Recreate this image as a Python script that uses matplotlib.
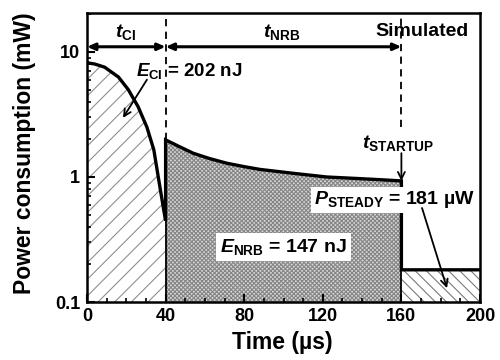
import matplotlib
matplotlib.use("Agg")
import matplotlib.pyplot as plt
from matplotlib.ticker import MultipleLocator, LogLocator, NullFormatter, FixedLocator, FixedFormatter

plt.rcParams["font.family"] = ["Liberation Sans", "DejaVu Sans"]
plt.rcParams["font.weight"] = "bold"
plt.rcParams["mathtext.fontset"] = "custom"
plt.rcParams["mathtext.rm"] = "Liberation Sans:bold"
plt.rcParams["mathtext.it"] = "Liberation Sans:bold:italic"
plt.rcParams["mathtext.bf"] = "Liberation Sans:bold"
plt.rcParams["hatch.linewidth"] = 0.8

# Charge-injection phase (t_CI)
t_ci = [0, 4, 9, 16, 21, 26, 30.5, 34, 36.5, 39, 40]
p_ci = [8.2, 8.0, 7.55, 6.3, 5.0, 3.65, 2.5, 1.65, 0.95, 0.55, 0.45]

# Non-resonant boost phase (t_NRB)
t_nrb = [40, 47, 54, 62, 71, 80, 88, 105, 122, 139, 150, 160]
p_nrb = [1.98, 1.75, 1.55, 1.41, 1.29, 1.21, 1.15, 1.07, 1.0, 0.97, 0.95, 0.93]

# Steady state after start-up
t_steady = [160, 200]
p_steady = [0.181, 0.181]

e_ci_nj = 202
e_nrb_nj = 147
p_steady_uw = 181

x_ticks = [0, 40, 80, 120, 160, 200]
y_ticks = [0.1, 1, 10]
y_tick_labels = ["0.1", "1", "10"]

fig = plt.figure(figsize=(5.0, 3.6), dpi=100)
ax = fig.add_axes([0.174, 0.161, 0.786, 0.803])
ax.set_yscale("log")
ax.set_xlim(0, 200)
ax.set_ylim(0.1, 20.5)

floor = 0.1
# shaded energy regions
ax.fill_between(t_ci, floor, p_ci, facecolor="white", edgecolor="#8f8f8f",
                hatch="//", linewidth=0, zorder=1)
ax.fill_between(t_nrb, floor, p_nrb, facecolor="#d6d6d6", edgecolor="#858585",
                hatch="xxxxxxxx", linewidth=0, zorder=1)
ax.fill_between(t_steady, floor, p_steady, facecolor="white", edgecolor="#7a7a7a",
                hatch="\\\\\\", linewidth=0, zorder=1)

# power trace
t_all = t_ci + t_nrb + t_steady
p_all = p_ci + p_nrb + p_steady
ax.plot(t_all, p_all, color="black", lw=2.4, zorder=4, solid_joinstyle="miter")

# phase boundaries
ax.plot([40, 40], [floor, p_ci[-1]], color="black", lw=1.3, zorder=3)
ax.plot([160, 160], [floor, p_steady[0]], color="black", lw=1.3, zorder=3)
ax.plot([40, 40], [p_nrb[0], 20.5], color="black", lw=1.3, ls=(0, (4, 3)), zorder=3)
ax.plot([160, 160], [2.5, 20.5], color="black", lw=1.3, ls=(0, (4, 3)), zorder=3)

# duration arrows
arrow_kw = dict(arrowstyle="<|-|>,head_length=0.45,head_width=0.2", color="black",
                lw=2.2, shrinkA=0, shrinkB=0)
ax.annotate("", xy=(0, 11.0), xytext=(40, 11.0), arrowprops=arrow_kw, zorder=5)
ax.annotate("", xy=(40, 11.0), xytext=(160, 11.0), arrowprops=arrow_kw, zorder=5)

fs = 14
ax.text(19.5, 14.4, r"$t_{\mathrm{CI}}$", ha="center", va="center", fontsize=fs)
ax.text(99, 14.4, r"$t_{\mathrm{NRB}}$", ha="center", va="center", fontsize=fs)
ax.text(170.5, 14.6, "Simulated", ha="center", va="center", fontsize=fs)

ax.text(24.8, 7.1, r"$E_{\mathrm{CI}}$" + f" = {e_ci_nj} nJ", ha="left", va="center",
        fontsize=13.5, zorder=6)
ax.annotate("", xy=(18.3, 2.97), xytext=(30.5, 6.0),
            arrowprops=dict(arrowstyle="->,head_length=0.5,head_width=0.25",
                            color="black", lw=1.3, shrinkA=0, shrinkB=0), zorder=6)

ax.text(100, 0.275, r"$E_{\mathrm{NRB}}$" + f" = {e_nrb_nj} nJ", ha="center",
        va="center", fontsize=fs, zorder=6,
        bbox=dict(facecolor="white", edgecolor="none", pad=3.0))

ax.text(158.5, 1.87, r"$t_{\mathrm{STARTUP}}$", ha="center", va="center",
        fontsize=fs, zorder=6)
ax.annotate("", xy=(160, p_nrb[-1]), xytext=(160, 1.55),
            arrowprops=dict(arrowstyle="->,head_length=0.5,head_width=0.25",
                            color="black", lw=1.3, shrinkA=0, shrinkB=0), zorder=6)

ax.text(156.5, 0.655, r"$P_{\mathrm{STEADY}}$" + f" = {p_steady_uw} µW", ha="center",
        va="center", fontsize=fs, zorder=6,
        bbox=dict(facecolor="white", edgecolor="none", pad=2.0))
ax.annotate("", xy=(183.2, 0.129), xytext=(170.5, 0.565),
            arrowprops=dict(arrowstyle="->,head_length=0.5,head_width=0.25",
                            color="black", lw=1.3, shrinkA=0, shrinkB=0), zorder=6)

# axes styling
for s in ax.spines.values():
    s.set_linewidth(1.8)
    s.set_zorder(7)
ax.xaxis.set_major_locator(FixedLocator(x_ticks))
ax.xaxis.set_minor_locator(MultipleLocator(10))
ax.yaxis.set_major_locator(FixedLocator(y_ticks))
ax.yaxis.set_major_formatter(FixedFormatter(y_tick_labels))
ax.yaxis.set_minor_locator(LogLocator(base=10, subs=range(2, 10)))
ax.yaxis.set_minor_formatter(NullFormatter())
ax.tick_params(which="both", direction="in", top=False, right=False, labelsize=13)
ax.tick_params(which="major", length=6, width=1.5)
ax.tick_params(which="minor", length=3, width=1.2)
ax.tick_params(axis="x", pad=4)
ax.tick_params(axis="y", pad=5)

fig.text(282 / 500, 1 - 343 / 360, "Time (µs)", ha="center", va="center",
         fontsize=16.5, fontweight="bold")
fig.text(25 / 500, 1 - 153 / 360, "Power consumption (mW)", ha="center", va="center",
         rotation=90, fontsize=16.5, fontweight="bold")

fig.savefig("out.png", dpi=100)
